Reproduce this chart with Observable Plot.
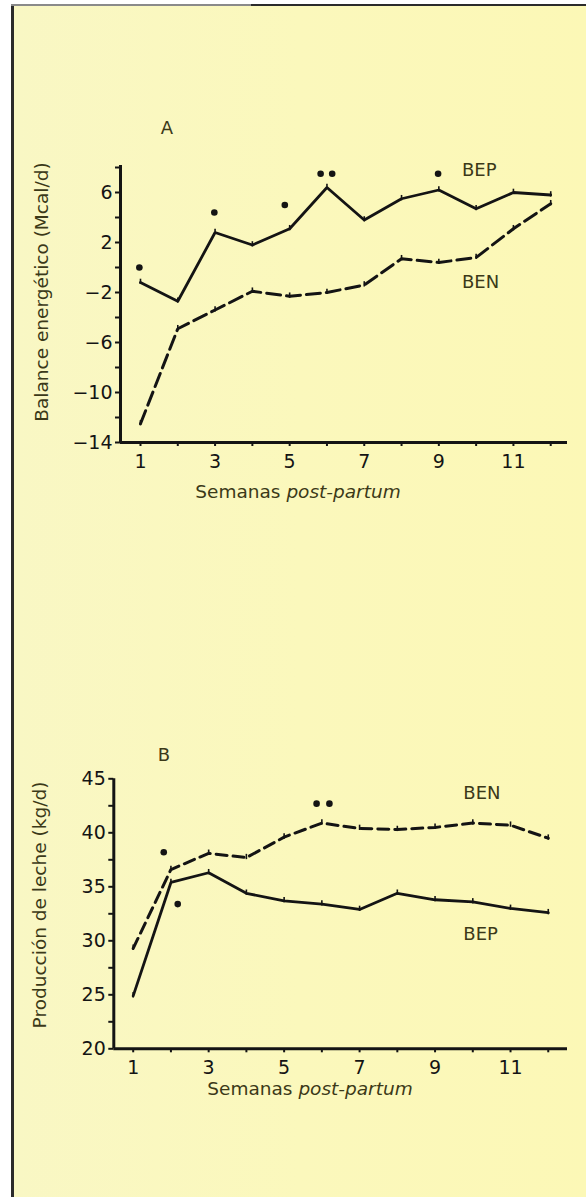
<!DOCTYPE html>
<html>
<head>
<meta charset="utf-8">
<script src="https://cdn.jsdelivr.net/npm/d3@7"></script>
<script src="https://cdn.jsdelivr.net/npm/@observablehq/plot@0.6"></script>
<style>
html,body{margin:0;padding:0;background:#ffffff;}
#page{position:relative;width:586px;height:1197px;background:#ffffff;overflow:hidden;font-family:"DejaVu Sans",sans-serif;}
#paper{position:absolute;left:14px;top:6px;right:0;bottom:0;background:linear-gradient(90deg,#f9f7c4 0%,#fbf8bc 50%,#fcf8b6 100%);}
.bl{position:absolute;left:11px;top:4px;width:3px;height:1193px;background:#2b2b2b;}
.bt{position:absolute;left:11px;top:4px;width:575px;height:2px;background:#2b2b2b;}
.bt2{position:absolute;left:11px;top:4px;width:240px;height:2px;background:#8a8a8a;}
.lbl{position:absolute;white-space:nowrap;color:#3b3918;font-size:18px;line-height:1;transform:translate(-50%,-50%);}
.rot{transform:translate(-50%,-50%) rotate(-90deg);}
.chart{position:absolute;left:0;}
</style>
</head>
<body>
<div id="page">
  <div id="paper"></div>
  <div class="bl"></div>
  <div class="bt"></div>
  <div class="bt2"></div>
  <div class="lbl" style="left:167px;top:128px;">A</div>
  <div class="lbl rot" style="left:42px;top:292px;font-size:18.5px;">Balance energético (Mcal/d)</div>
  <div class="lbl" style="left:298px;top:492px;font-size:18.5px;">Semanas <i>post-partum</i></div>
  <div class="lbl" style="left:164px;top:755px;">B</div>
  <div class="lbl rot" style="left:40px;top:905px;font-size:18.5px;">Producción de leche (kg/d)</div>
  <div class="lbl" style="left:310px;top:1089px;font-size:18.5px;">Semanas <i>post-partum</i></div>
  <div id="chartA" class="chart" style="top:100px;"></div>
  <div id="chartB" class="chart" style="top:700px;"></div>
</div>
<script>
// ---------- data ----------
const weeks = [1,2,3,4,5,6,7,8,9,10,11,12];

// Panel A: energy balance (Mcal/d)
const balanceBEP = [-1.2,-2.7,2.8,1.8,3.1,6.4,3.8,5.5,6.2,4.7,6.0,5.8];
const balanceBEN = [-12.5,-4.9,-3.4,-1.9,-2.3,-2.0,-1.4,0.7,0.4,0.8,3.1,5.1];
const starsAWeek  = [0.97,2.98,4.87,5.83,6.14,8.98];
const starsAValue = [0.0,4.4,5.0,7.5,7.5,7.5];
const labelsA = ["BEP","BEN"];
const labelsAWeek = [9.62,9.62];
const labelsAValue = [7.8,-1.2];
const yTicksA = [6,2,-2,-6,-10,-14];
const yMinorA = [8,4,0,-4,-8,-12];

// Panel B: milk production (kg/d)
const milkBEP = [24.9,35.4,36.3,34.4,33.7,33.4,32.9,34.4,33.8,33.6,33.0,32.6];
const milkBEN = [29.3,36.6,38.1,37.7,39.6,40.9,40.4,40.3,40.5,40.9,40.7,39.5];
const starsBWeek  = [1.81,2.18,5.86,6.2];
const starsBValue = [38.2,33.4,42.7,42.7];
const labelsB = ["BEN","BEP"];
const labelsBWeek = [9.75,9.75];
const labelsBValue = [43.7,30.6];
const yTicksB = [45,40,35,30,25,20];
const yMinorB = [42.5,37.5,32.5,27.5,22.5];

const xTicks = [1,3,5,7,9,11];

// ---------- helpers ----------
const ink = "#141414";
const olive = "#3b3918";
const tickSym = {draw(ctx, size){ const r = Math.sqrt(size/Math.PI); ctx.moveTo(0,-r); ctx.lineTo(0,r*0.4); }};
const rows = (xs, ys) => xs.map((x,i)=>({x, y: ys[i]}));
const lrows = (names, xs, ys) => names.map((n,i)=>({t:n, x:xs[i], y:ys[i]}));

function panel({xDomain, yDomain, marginTop, marginBottom, marginLeft, marginRight,
                solid, dashed, stars, labels, yTicks, yMinor, dash}) {
  return Plot.plot({
    width: 586, height: 420,
    marginTop, marginBottom, marginLeft, marginRight,
    x: {domain: xDomain},
    y: {domain: yDomain},
    style: {background:"transparent", fontFamily:"DejaVu Sans, sans-serif", fontSize:"19px", color: ink, overflow:"visible"},
    marks: [
      Plot.axisY({ticks: yTicks, tickSize: 5, tickPadding: 3, strokeWidth: 2, label: null, fill: ink, tickFormat: d => d < 0 ? "\u2212" + Math.abs(d) : String(d)}),
      Plot.axisY({ticks: yMinor, tickSize: 5, strokeWidth: 2, label: null, tickFormat: () => ""}),
      Plot.axisX({ticks: xTicks, tickSize: 0, tickPadding: 12, label: null, fill: ink}),
      Plot.axisX({ticks: weeks, tickSize: 4, strokeWidth: 2, label: null, tickFormat: () => ""}),
      Plot.ruleX([xDomain[0]], {stroke: ink, strokeWidth: 3}),
      Plot.ruleY([yDomain[0]], {stroke: ink, strokeWidth: 3}),
      Plot.line(dashed, {x:"x", y:"y", stroke: ink, strokeWidth: 3, strokeDasharray: dash, strokeLinejoin:"miter"}),
      Plot.line(solid, {x:"x", y:"y", stroke: ink, strokeWidth: 2.8, strokeLinejoin:"miter"}),
      Plot.dot(dashed, {x:"x", y:"y", r: 3.8, symbol: tickSym, stroke: ink, strokeWidth: 1.6, fill: "none"}),
      Plot.dot(solid, {x:"x", y:"y", r: 3.8, symbol: tickSym, stroke: ink, strokeWidth: 1.6, fill: "none"}),
      Plot.dot(stars, {x:"x", y:"y", r: 3.3, fill: ink, stroke: "none"}),
      Plot.text(labels, {x:"x", y:"y", text:"t", textAnchor:"start", fill: olive, fontSize: 18})
    ]
  });
}

document.getElementById("chartA").append(panel({
  xDomain: [0.464, 12.45], yDomain: [-14, 8.16],
  marginTop: 65, marginBottom: 78, marginLeft: 120, marginRight: 19,
  solid: rows(weeks, balanceBEP), dashed: rows(weeks, balanceBEN),
  stars: rows(starsAWeek, starsAValue), labels: lrows(labelsA, labelsAWeek, labelsAValue),
  yTicks: yTicksA, yMinor: yMinorA, dash: "14,6"
}));

document.getElementById("chartB").append(panel({
  xDomain: [0.486, 12.51], yDomain: [20, 45],
  marginTop: 78.3, marginBottom: 71.7, marginLeft: 113.3, marginRight: 19,
  solid: rows(weeks, milkBEP), dashed: rows(weeks, milkBEN),
  stars: rows(starsBWeek, starsBValue), labels: lrows(labelsB, labelsBWeek, labelsBValue),
  yTicks: yTicksB, yMinor: yMinorB, dash: "11,6"
}));
</script>
</body>
</html>
